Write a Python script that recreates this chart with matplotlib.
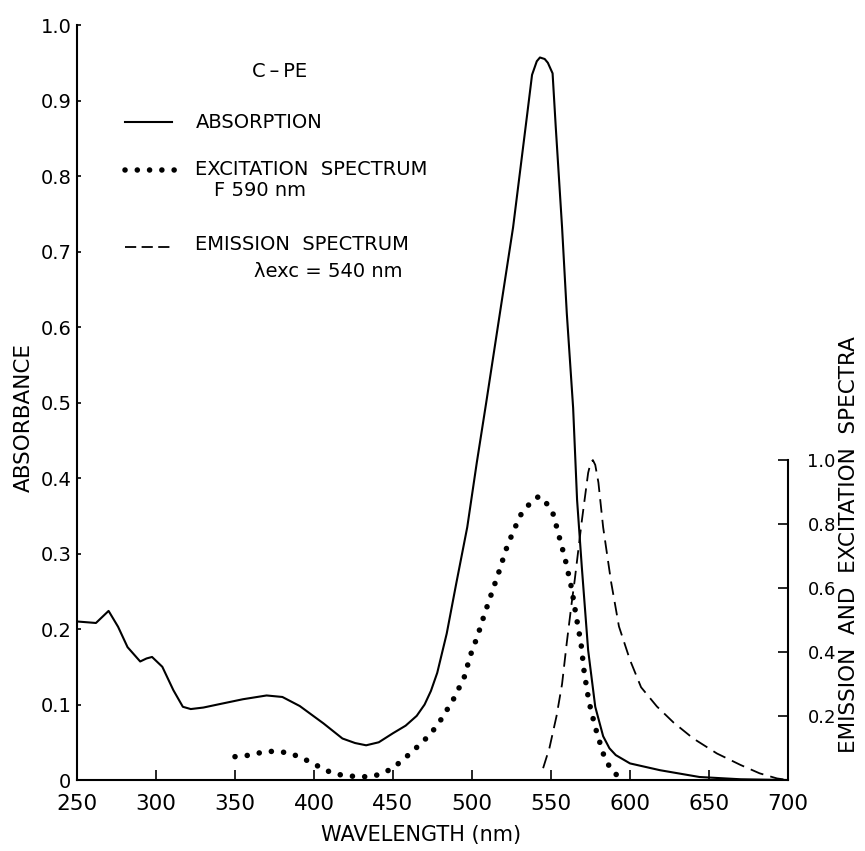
import matplotlib
matplotlib.use("Agg")
import matplotlib.pyplot as plt

# absorption (absorbance units, left axis)
abs_wl = [250, 262, 266, 270, 276, 282, 290, 294, 297.5, 304, 311, 317, 322, 330,
          339, 355, 370, 380, 391, 406, 418, 426, 433, 441, 450, 458, 465, 470,
          474, 478, 484, 490, 497, 503, 509, 518, 526, 535, 538, 541, 543, 546,
          548, 551, 553, 557, 560, 564, 566.5, 569.5, 573.5, 578, 583, 587, 591,
          600, 619, 644, 670, 700]
abs_val = [0.21, 0.208, 0.216, 0.224, 0.203, 0.176, 0.157, 0.161, 0.163, 0.15,
           0.119, 0.097, 0.094, 0.096, 0.100, 0.107, 0.112, 0.110, 0.098, 0.075,
           0.055, 0.049, 0.046, 0.050, 0.062, 0.072, 0.085, 0.100, 0.118, 0.142,
           0.194, 0.26, 0.335, 0.42, 0.50, 0.623, 0.732, 0.883, 0.934, 0.952,
           0.957, 0.955, 0.950, 0.936, 0.865, 0.732, 0.618, 0.493, 0.371, 0.282,
           0.172, 0.097, 0.058, 0.042, 0.033, 0.022, 0.013, 0.004, 0.001, 0.0]

# excitation spectrum, F 590 nm (relative units, right axis)
exc_wl = [350, 360, 368, 375, 384, 392, 398.5, 405, 411, 417, 423, 429, 437, 445,
          451, 457, 463, 469, 475, 480, 488, 495, 499, 503.5, 508, 512.5, 517,
          521.5, 526, 531, 538, 542.5, 547, 551.5, 555, 559, 563, 566, 569, 571,
          574, 578, 583, 588, 593]
exc_val = [0.073, 0.078, 0.088, 0.090, 0.085, 0.070, 0.054, 0.037, 0.023, 0.016,
           0.0125, 0.010, 0.011, 0.024, 0.042, 0.066, 0.093, 0.12, 0.152, 0.186,
           0.25, 0.32, 0.39, 0.45, 0.52, 0.585, 0.65, 0.72, 0.776, 0.83, 0.873,
           0.887, 0.866, 0.83, 0.764, 0.69, 0.60, 0.51, 0.427, 0.337, 0.245,
           0.165, 0.083, 0.031, 0.010]

# emission spectrum, exc 540 nm (relative units, right axis)
em_wl = [545, 549, 553.5, 557, 560, 563, 565, 569.5, 573.5, 575, 576.5, 578, 580,
         583, 588, 593, 600, 607, 617, 627.5, 640, 655, 670, 682, 693, 700]
em_val = [0.037, 0.10, 0.20, 0.30, 0.43, 0.55, 0.625, 0.81, 0.96, 0.99, 1.0, 0.985,
          0.93, 0.79, 0.62, 0.48, 0.375, 0.29, 0.23, 0.18, 0.13, 0.083, 0.047,
          0.021, 0.005, 0.0]

x_ticks = [250, 300, 350, 400, 450, 500, 550, 600, 650, 700]
left_ticks = [0, 0.1, 0.2, 0.3, 0.4, 0.5, 0.6, 0.7, 0.8, 0.9, 1.0]
left_labels = ["0", "0.1", "0.2", "0.3", "0.4", "0.5", "0.6", "0.7", "0.8", "0.9", "1.0"]
right_ticks = [0.2, 0.4, 0.6, 0.8, 1.0]
right_labels = ["0.2", "0.4", "0.6", "0.8", "1.0"]

DOTS = (0, (0.01, 2.2))
DASHES = (0, (7.5, 4.0))

fig = plt.figure(figsize=(8.65, 8.51), dpi=100)
ax = fig.add_axes([0.089, 0.0834, 0.822, 0.8872])
ax2 = ax.twinx()

ax.plot(abs_wl, abs_val, color="black", lw=1.5)
ax2.plot(exc_wl, exc_val, color="black", lw=4, linestyle=DOTS,
         dash_capstyle="round")
ax2.plot(em_wl, em_val, color="black", lw=1.3, linestyle=DASHES)

ax.set_xlim(250, 700)
ax.set_ylim(0, 1.0)
ax2.set_ylim(0, 2.36)

for s in ["top", "right"]:
    ax.spines[s].set_visible(False)
for s in ["top", "left", "bottom"]:
    ax2.spines[s].set_visible(False)
for s in ["left", "bottom"]:
    ax.spines[s].set_linewidth(1.5)
ax2.spines["right"].set_linewidth(1.5)
ax2.spines["right"].set_bounds(0, 1.0)

ax.set_xticks(x_ticks)
ax.set_xticklabels([str(t) for t in x_ticks])
ax.set_yticks(left_ticks)
ax.set_yticklabels(left_labels)
ax.tick_params(axis="x", direction="in", length=7, width=1.2, labelsize=15.5, pad=10)
ax.tick_params(axis="y", direction="in", length=3, width=1.2, labelsize=14, pad=4)

ax2.set_yticks(right_ticks)
ax2.set_yticklabels(right_labels)
ax2.tick_params(axis="y", direction="in", length=7, width=1.2, labelsize=13, pad=14)

ax.set_xlabel("WAVELENGTH (nm)", fontsize=15)
ax.xaxis.set_label_coords(0.484, -0.06)
ax.set_ylabel("ABSORBANCE", fontsize=15.5, va="center")
ax.yaxis.set_label_coords(-0.075, 0.48)
fig.text(0.981, 0.36, "EMISSION  AND  EXCITATION  SPECTRA", rotation=90,
         fontsize=15.5, ha="center", va="center")

# legend block
ax.text(378, 0.939, "C\u2009\u2013\u2009PE", fontsize=14, ha="center", va="center")
ax.plot([0.0675, 0.1336], [0.8715, 0.8715], transform=ax.transAxes,
        color="black", lw=1.5)
ax.plot([0.0675, 0.1385], [0.808, 0.808], transform=ax.transAxes,
        color="black", lw=4, linestyle=DOTS, dash_capstyle="round")
ax.plot([0.0675, 0.1336], [0.706, 0.706], transform=ax.transAxes,
        color="black", lw=1.3, linestyle=(0, (6.2, 3.0)))
ax.text(325, 0.8715, "ABSORPTION", fontsize=14, va="center")
ax.text(325, 0.808, "EXCITATION  SPECTRUM", fontsize=14, va="center")
ax.text(337, 0.781, "F 590 nm", fontsize=14, va="center")
ax.text(325, 0.709, "EMISSION  SPECTRUM", fontsize=14, va="center")
ax.text(362, 0.673, "\u03bbexc = 540 nm", fontsize=14, va="center")

fig.savefig("out.png", dpi=100)
